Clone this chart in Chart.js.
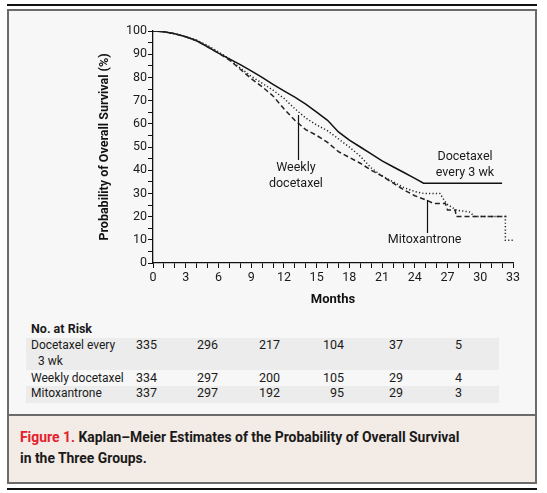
<!DOCTYPE html>
<html>
<head>
<meta charset="utf-8">
<title>Kaplan–Meier Estimates of the Probability of Overall Survival</title>
<script src="https://cdn.jsdelivr.net/npm/chart.js@4.4.0/dist/chart.umd.min.js"></script>
<style>
    html, body { margin: 0; padding: 0; background: #fff; }
    body {
        width: 547px; height: 493px; position: relative; overflow: hidden;
        font-family: Roboto, "Noto Sans", sans-serif; color: #1a1a1a;
    }
    .rule { position: absolute; left: 7px; width: 530px; height: 2px; background: #111; }
    #frame {
        position: absolute; left: 7px; top: 9px; width: 526px; height: 471px;
        border: 2px solid #6b6b6b; background: #f7f7f7;
    }
    #caption-box {
        position: absolute; left: 9px; top: 414px; width: 526px; height: 66px;
        border-top: 2px solid #6b6b6b; background: #f3ebe5;
    }
    #caption {
        position: absolute; left: 20px; top: 427px; width: 445px;
        font-size: 13.9px; font-weight: 700; line-height: 20.5px; color: #1a1a1a;
    }
    #caption .fig { color: #e3202b; }
    #chart { position: absolute; left: 95px; top: 10px; }
    .band { position: absolute; left: 26px; width: 473px; background: #ececec; }
    .risk-title { position: absolute; left: 31px; top: 321px; font-size: 12.5px; font-weight: 700; line-height: 16px; }
    .risk-label {
        position: absolute; left: 31px; width: 93px; font-size: 12px; line-height: 16px;
        padding-left: 7px; text-indent: -7px;
    }
    .risk-num { position: absolute; width: 40px; text-align: right; font-size: 12.5px; line-height: 16px; }
</style>
</head>
<body>
<div class="rule" style="top:4px"></div>
<div id="frame"></div>
<div id="caption-box"></div>
<div id="caption"><span class="fig">Figure 1.</span> Kaplan–Meier Estimates of the Probability of Overall Survival in the Three Groups.</div>
<div class="rule" style="top:488px"></div>
<canvas id="chart" width="440" height="300"></canvas>
<div id="risk-table"></div>

<script>
// ---- Data ----
// Docetaxel every 3 wk (solid)
const monthsQ3w = [0, 1, 2, 3, 4, 5, 6, 7, 8, 9, 10, 11, 12, 13, 14, 15, 16, 17, 18, 19, 20, 21, 22, 23, 24, 24.8, 32];
const survivalQ3w = [100, 99.7, 98.8, 97.5, 95.8, 93.2, 90.5, 88, 85.5, 82.8, 80, 77, 74.2, 71.5, 68.5, 65, 61.5, 56.5, 53, 50, 47, 44, 41.5, 39, 36.5, 34.4, 34.4];

// Weekly docetaxel (dotted)
const monthsWeekly = [0, 1, 2, 3, 4, 5, 6, 7, 8, 9, 10, 11, 12, 13, 14, 15, 16, 17, 18, 19, 20, 21, 22, 23, 24, 24.8, 26.3, 26.9, 27.8, 29, 29.5, 32.3, 32.3, 33];
const survivalWeekly = [100, 99.7, 98.8, 97.6, 96, 93.8, 91, 88, 84, 80.5, 77.5, 74.5, 71, 66.5, 62.5, 59.5, 57, 53.5, 50, 46, 41, 37.5, 35, 32.5, 30.8, 30, 30, 25.5, 22.8, 22, 20, 20, 9.8, 9.8];

// Mitoxantrone (dashed)
const monthsMitox = [0, 1, 2, 3, 4, 5, 6, 7, 8, 9, 10, 11, 12, 13, 14, 15, 16, 17, 18, 19, 20, 21, 22, 23, 24, 25, 25.7, 26.8, 27, 27.7, 27.8, 32.4];
const survivalMitox = [100, 99.7, 98.8, 97.5, 95.8, 93.2, 90.5, 87.5, 83.5, 79.5, 76, 72, 66.5, 61.5, 57.5, 55, 52, 48, 45.5, 43, 40, 37.5, 34.5, 31.5, 29, 27.2, 25.7, 25.7, 22.8, 22.8, 20, 20];

// Number at risk table
const riskGroups = ['Docetaxel every 3 wk', 'Weekly docetaxel', 'Mitoxantrone'];
const riskQ3w = [335, 296, 217, 104, 37, 5];
const riskWeekly = [334, 297, 200, 105, 29, 4];
const riskMitox = [337, 297, 192, 95, 29, 3];

// Tick labels
const xTickEvery = 3;   // months between labelled x ticks
const yTickEvery = 10;  // percent between labelled y ticks

// ---- Layout (page pixels), kept apart from the data ----
const riskColumnRight = [157, 218, 280, 344, 403, 462];
const riskRowTop = [337, 370, 385];
const riskBands = [{ top: 338, height: 32 }, { top: 386, height: 17 }];

const FONT = 'Roboto, "Noto Sans", sans-serif';
const INK = '#1a1a1a';

/**
 * Pair month and percent arrays into {x, y} points
 */
function toPoints(months, values) {
    return months.map((m, i) => ({ x: m, y: values[i] }));
}

/**
 * Curve labels and pointer lines, placed in data units
 */
const curveLabels = [
    { lines: ['Weekly', 'docetaxel'], month: 13.1, pct: 40.9 },
    { lines: ['Docetaxel', 'every 3 wk'], month: 28.6, pct: 45.8 },
    { lines: ['Mitoxantrone'], month: 24.9, pct: 9.9 }
];
const pointers = [
    { month: 13.3, from: 63.8, to: 44.4 },
    { month: 25.1, from: 27.2, to: 12.9 }
];

const annotationPlugin = {
    id: 'curveAnnotations',
    afterDatasetsDraw(chart) {
        const { ctx, scales: { x, y } } = chart;
        ctx.save();
        ctx.strokeStyle = '#111';
        ctx.lineWidth = 1.2;
        pointers.forEach(p => {
            const px = Math.round(x.getPixelForValue(p.month)) + 0.5;
            ctx.beginPath();
            ctx.moveTo(px, y.getPixelForValue(p.from));
            ctx.lineTo(px, y.getPixelForValue(p.to));
            ctx.stroke();
        });
        ctx.fillStyle = INK;
        ctx.font = '12.5px ' + FONT;
        ctx.textAlign = 'center';
        ctx.textBaseline = 'middle';
        curveLabels.forEach(l => {
            const px = x.getPixelForValue(l.month);
            const py = y.getPixelForValue(l.pct);
            l.lines.forEach((t, i) => ctx.fillText(t, px, py + i * 16));
        });
        ctx.restore();
    }
};

/**
 * Build the number-at-risk table below the chart
 */
function buildRiskTable() {
    const table = document.getElementById('risk-table');
    riskBands.forEach(b => {
        const band = document.createElement('div');
        band.className = 'band';
        band.style.top = b.top + 'px';
        band.style.height = b.height + 'px';
        table.appendChild(band);
    });

    const title = document.createElement('div');
    title.className = 'risk-title';
    title.textContent = 'No. at Risk';
    table.appendChild(title);

    const rows = [riskQ3w, riskWeekly, riskMitox];
    rows.forEach((values, r) => {
        const label = document.createElement('div');
        label.className = 'risk-label';
        label.style.top = riskRowTop[r] + 'px';
        // keep the last two words together so long names wrap as "... every / 3 wk"
        label.textContent = riskGroups[r].replace(/ (\S+)$/, '\u00a0$1');
        table.appendChild(label);

        values.forEach((v, c) => {
            const cell = document.createElement('div');
            cell.className = 'risk-num';
            cell.style.top = riskRowTop[r] + 'px';
            cell.style.left = (riskColumnRight[c] - 40) + 'px';
            cell.textContent = v;
            table.appendChild(cell);
        });
    });
}

document.addEventListener('DOMContentLoaded', function() {
    buildRiskTable();

    const tickFont = { family: FONT, size: 12.5 };
    const axisGrid = { display: true, drawOnChartArea: false, drawTicks: true, tickLength: 5, color: '#111', lineWidth: 1 };
    const axisBorder = { display: true, color: '#111', width: 1.3 };

    new Chart(document.getElementById('chart'), {
        type: 'line',
        data: {
            datasets: [
                {
                    label: 'Mitoxantrone',
                    data: toPoints(monthsMitox, survivalMitox),
                    borderColor: '#222', borderWidth: 1.5, borderDash: [5, 3]
                },
                {
                    label: 'Weekly docetaxel',
                    data: toPoints(monthsWeekly, survivalWeekly),
                    borderColor: '#222', borderWidth: 1.5, borderDash: [1.2, 2.2]
                },
                {
                    label: 'Docetaxel every 3 wk',
                    data: toPoints(monthsQ3w, survivalQ3w),
                    borderColor: '#111', borderWidth: 1.5
                }
            ]
        },
        options: {
            responsive: false,
            animation: false,
            events: [],
            datasets: { line: { pointRadius: 0, tension: 0, fill: false } },
            layout: { padding: { left: 0, right: 22, top: 21, bottom: 0 } },
            plugins: { legend: { display: false }, tooltip: { enabled: false } },
            scales: {
                x: {
                    type: 'linear', min: 0, max: 33,
                    border: axisBorder,
                    grid: axisGrid,
                    ticks: {
                        stepSize: 1, maxTicksLimit: 40, autoSkip: false, maxRotation: 0,
                        padding: 2, color: INK, font: tickFont,
                        callback: v => (v % xTickEvery === 0 ? String(v) : '')
                    },
                    title: {
                        display: true, text: 'Months', color: '#111',
                        font: { family: FONT, size: 13, weight: 'bold' },
                        padding: { top: 0, bottom: 2 }
                    },
                    afterFit: s => { s.height = 47; }
                },
                y: {
                    type: 'linear', min: 0, max: 100,
                    border: axisBorder,
                    grid: axisGrid,
                    ticks: {
                        stepSize: 5, maxTicksLimit: 30, autoSkip: false,
                        padding: 1, color: INK, font: tickFont,
                        callback: v => (v % yTickEvery === 0 ? String(v) : '')
                    },
                    title: {
                        display: true, text: 'Probability of Overall Survival (%)', color: '#111',
                        font: { family: FONT, size: 12.5, weight: 'bold' },
                        padding: { top: 2, bottom: 0 }
                    },
                    afterFit: s => { s.width = 58; }
                }
            }
        },
        plugins: [annotationPlugin]
    });
});
</script>
</body>
</html>
